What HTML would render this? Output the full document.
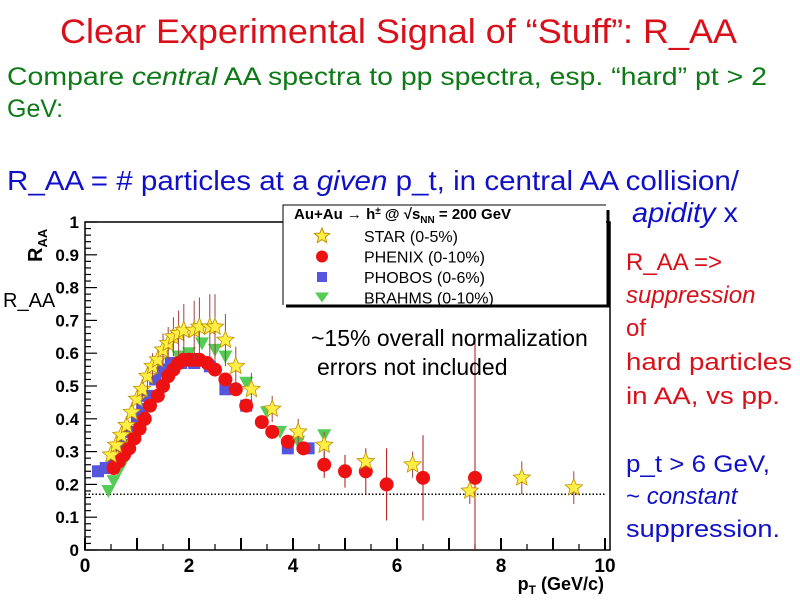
<!DOCTYPE html>
<html><head><meta charset="utf-8"><style>
html,body{margin:0;padding:0;background:#fff}
svg{display:block;font-family:"Liberation Sans",Arial,sans-serif}
</style></head><body>
<svg id="s" width="800" height="600" viewBox="0 0 800 600">
<rect width="800" height="600" fill="#fff"/>
<text x="60" y="43" font-size="34" fill="#d9101a" textLength="677" lengthAdjust="spacingAndGlyphs">Clear Experimental Signal of “Stuff”: R_AA</text>
<text x="7" y="85" font-size="25" fill="#0e7a17" textLength="760" lengthAdjust="spacingAndGlyphs">Compare <tspan font-style="italic">central</tspan> AA spectra to pp spectra,  esp. “hard” pt &gt; 2</text>
<text x="7" y="117" font-size="25" fill="#0e7a17">GeV:</text>
<text x="7" y="190" font-size="28" fill="#1010c8" textLength="732" lengthAdjust="spacingAndGlyphs">R_AA = # particles at a <tspan font-style="italic">given</tspan> p_t, in central AA collision/</text>
<text x="632" y="222" font-size="28" fill="#1010c8" textLength="106" lengthAdjust="spacingAndGlyphs"><tspan font-style="italic">apidity</tspan> x</text>
<g font-size="24">
<text x="626" y="270" fill="#d9101a">R_AA =&gt;</text>
<text x="626" y="303" fill="#d9101a" font-style="italic">suppression</text>
<text x="626" y="336" fill="#d9101a">of</text>
<text x="626" y="370" fill="#d9101a" textLength="166" lengthAdjust="spacingAndGlyphs">hard particles</text>
<text x="626" y="404" fill="#d9101a" textLength="154" lengthAdjust="spacingAndGlyphs">in AA, vs pp.</text>
<text x="626" y="472" fill="#1010c8" textLength="144" lengthAdjust="spacingAndGlyphs">p_t &gt; 6 GeV,</text>
<text x="626" y="504" fill="#1010c8"><tspan>~ </tspan><tspan font-style="italic">constant</tspan></text>
<text x="626" y="537" fill="#1010c8" textLength="154" lengthAdjust="spacingAndGlyphs">suppression.</text>
</g>
<g id="chart"></g>
</svg>
<script>
const xTicks=[0,2,4,6,8,10];
const yTicks=[0,0.1,0.2,0.3,0.4,0.5,0.6,0.7,0.8,0.9,1];
const yTickLabels=["0","0.1","0.2","0.3","0.4","0.5","0.6","0.7","0.8","0.9","1"];
const refLevel=0.17;
const starX=[0.5,0.6,0.7,0.8,0.9,1.0,1.1,1.2,1.3,1.4,1.5,1.6,1.7,1.8,1.9,2.1,2.2,2.4,2.5,2.7,2.9,3.2,3.6,4.1,4.6,5.4,6.3,7.4,8.4,9.4];
const starY=[0.29,0.32,0.35,0.38,0.42,0.46,0.49,0.53,0.56,0.58,0.61,0.63,0.65,0.66,0.67,0.67,0.68,0.68,0.68,0.64,0.56,0.49,0.43,0.36,0.32,0.27,0.26,0.18,0.22,0.19];
const starErr=[0.02,0.02,0.02,0.02,0.03,0.03,0.03,0.04,0.04,0.04,0.05,0.05,0.06,0.07,0.08,0.09,0.09,0.1,0.1,0.08,0.06,0.05,0.04,0.04,0.04,0.03,0.04,0.04,0.05,0.05];
const phenixX=[0.55,0.65,0.75,0.85,0.95,1.05,1.15,1.25,1.4,1.5,1.6,1.7,1.8,1.9,2.0,2.1,2.2,2.35,2.5,2.7,2.9,3.1,3.4,3.6,3.9,4.2,4.6,5.0,5.4,5.8,6.5,7.5];
const phenixY=[0.25,0.27,0.29,0.31,0.34,0.37,0.40,0.44,0.47,0.50,0.53,0.55,0.57,0.58,0.58,0.58,0.58,0.57,0.55,0.52,0.49,0.44,0.39,0.36,0.33,0.31,0.26,0.24,0.24,0.20,0.22,0.22];
const phenixErr=[0,0,0,0,0,0,0,0,0,0,0,0,0,0,0,0,0,0,0,0,0,0,0,0,0.02,0.02,0.04,0.05,0.07,0.11,0.13,0.42];
const phobosX=[0.25,0.4,0.55,0.7,0.85,1.0,1.1,1.2,1.35,1.5,1.65,1.85,2.1,2.4,2.7,3.1,3.9,4.3];
const phobosY=[0.24,0.25,0.27,0.32,0.36,0.40,0.43,0.47,0.52,0.55,0.57,0.57,0.57,0.56,0.49,0.44,0.31,0.31];
const brahmsX=[0.45,0.55,0.65,0.75,1.8,2.0,2.25,2.5,2.7,3.1,3.5,3.75,4.1,4.6];
const brahmsY=[0.18,0.21,0.24,0.27,0.59,0.60,0.63,0.61,0.59,0.51,0.42,0.36,0.33,0.35];

const NS="http://www.w3.org/2000/svg";
const g=document.getElementById('chart');
const X0=85,X1=605,Y0=550,Y1=222;
function sx(v){return X0+(X1-X0)*v/10;}
function sy(v){return Y0-(Y0-Y1)*v;}
function mk(tag,attrs,parent){const e=document.createElementNS(NS,tag);for(const k in attrs)e.setAttribute(k,attrs[k]);(parent||g).appendChild(e);return e;}

let e;
e=mk('rect',{x:0,y:200,width:618,height:400,fill:'#fff'});


e=mk('path',{d:`M${X0} ${Y1}H610V${Y0}H${X0}Z`,fill:'none',stroke:'#000','stroke-width':1.5});


for(let i=0;i<=50;i++){const v=i/50;const len=(i%5==0)?12:6;
 e=mk('line',{x1:X0,x2:X0+len,y1:sy(v),y2:sy(v),stroke:'#000','stroke-width':1.2});
 
 }
yTicks.forEach((v,i)=>{e=mk('text',{x:79,y:sy(v)+6,'text-anchor':'end','font-size':17,'font-weight':'bold'});e.textContent=yTickLabels[i];
 
 });
for(let i=0;i<=20;i++){const v=i/2;const len=(i%2==0)?12:6;
 e=mk('line',{x1:sx(v),x2:sx(v),y1:Y0,y2:Y0-len,stroke:'#000','stroke-width':(i%2==0)?2:1.2});
 
 }
xTicks.forEach(v=>{e=mk('text',{x:sx(v),y:572,'text-anchor':'middle','font-size':19,'font-weight':'bold'});e.textContent=v;
 
 });
e=mk('text',{x:604,y:590,'text-anchor':'end','font-size':18,'font-weight':'bold'});
e.innerHTML='p<tspan font-size="12" dy="4">T</tspan><tspan dy="-4"> (GeV/c)</tspan>';


e=mk('text',{transform:'translate(42,262) rotate(-90)','font-size':20,'font-weight':'bold'});
e.innerHTML='R<tspan font-size="13" dy="5">AA</tspan>';


e=mk('text',{x:3,y:307,'font-size':20});e.textContent='R_AA';


e=mk('line',{x1:X0,x2:605,y1:sy(refLevel),y2:sy(refLevel),stroke:'#000','stroke-width':1.5,'stroke-dasharray':'1.5 2'});



function errbar(x,y,err,col){if(!err)return;
 const lo=Math.max(0,y-err);
 e=mk('line',{x1:sx(x),x2:sx(x),y1:sy(lo),y2:sy(y+err),stroke:col,'stroke-width':1});
 
 }
function star(cx,cy,r){let p=[];for(let i=0;i<10;i++){const a=-Math.PI/2+i*Math.PI/5;const rr=i%2?r*0.45:r;p.push((cx+rr*Math.cos(a)).toFixed(1)+','+(cy+rr*Math.sin(a)).toFixed(1));}return p.join(' ');}

phobosX.forEach((x,i)=>{e=mk('rect',{x:sx(x)-6,y:sy(phobosY[i])-6,width:12,height:12,fill:'#5555dd'});
 
 });
brahmsX.forEach((x,i)=>{const cx=sx(x),cy=sy(brahmsY[i]);e=mk('polygon',{points:`${cx-7},${cy-6} ${cx+7},${cy-6} ${cx},${cy+7}`,fill:'#55cc55'});
 
 });
phenixX.forEach((x,i)=>{errbar(x,phenixY[i],phenixErr[i],'#b01010');e=mk('circle',{cx:sx(x),cy:sy(phenixY[i]),r:7,fill:'#ee1111'});
 
 });
starX.forEach((x,i)=>{errbar(x,starY[i],starErr[i],'#a04040');e=mk('polygon',{points:star(sx(x),sy(starY[i]),9),fill:'#ffee44',stroke:'#c09000','stroke-width':0.8});
 
 });

const lg=mk('g',{});


mk('rect',{x:283,y:205,width:323,height:100,fill:'#fff'},lg);
mk('path',{d:'M283 305V205H606',fill:'none',stroke:'#000','stroke-width':1},lg);
mk('path',{d:'M286 306H608V210',fill:'none',stroke:'#000','stroke-width':3},lg);
e=mk('text',{x:294,y:219,'font-size':15,'font-weight':'bold'},lg);
e.innerHTML='Au+Au → h<tspan font-size="10" dy="-5">±</tspan><tspan dy="5"> @ √s</tspan><tspan font-size="10" dy="4">NN</tspan><tspan dy="-4"> = 200 GeV</tspan>';


const legNames=["STAR (0-5%)","PHENIX (0-10%)","PHOBOS (0-6%)","BRAHMS (0-10%)"];
legNames.forEach((n,i)=>{const y=236+i*20.5;
 e=mk('text',{x:364,y:y+6,'font-size':16},lg);e.textContent=n;
 
 
 if(i==0)mk('polygon',{points:star(322,y,8),fill:'#ffee44',stroke:'#c09000'},lg);
 if(i==1)mk('circle',{cx:322,cy:y,r:6,fill:'#ee1111'},lg);
 if(i==2)mk('rect',{x:317,y:y-5,width:10,height:10,fill:'#5555dd'},lg);
 if(i==3)mk('polygon',{points:`315,${y-5} 329,${y-5} 322,${y+5}`,fill:'#55cc55'},lg);
});
e=mk('text',{x:311,y:346,'font-size':23});e.textContent='~15% overall normalization';


e=mk('text',{x:317,y:375,'font-size':23});e.textContent='errors not included';


</script>
</body></html>
